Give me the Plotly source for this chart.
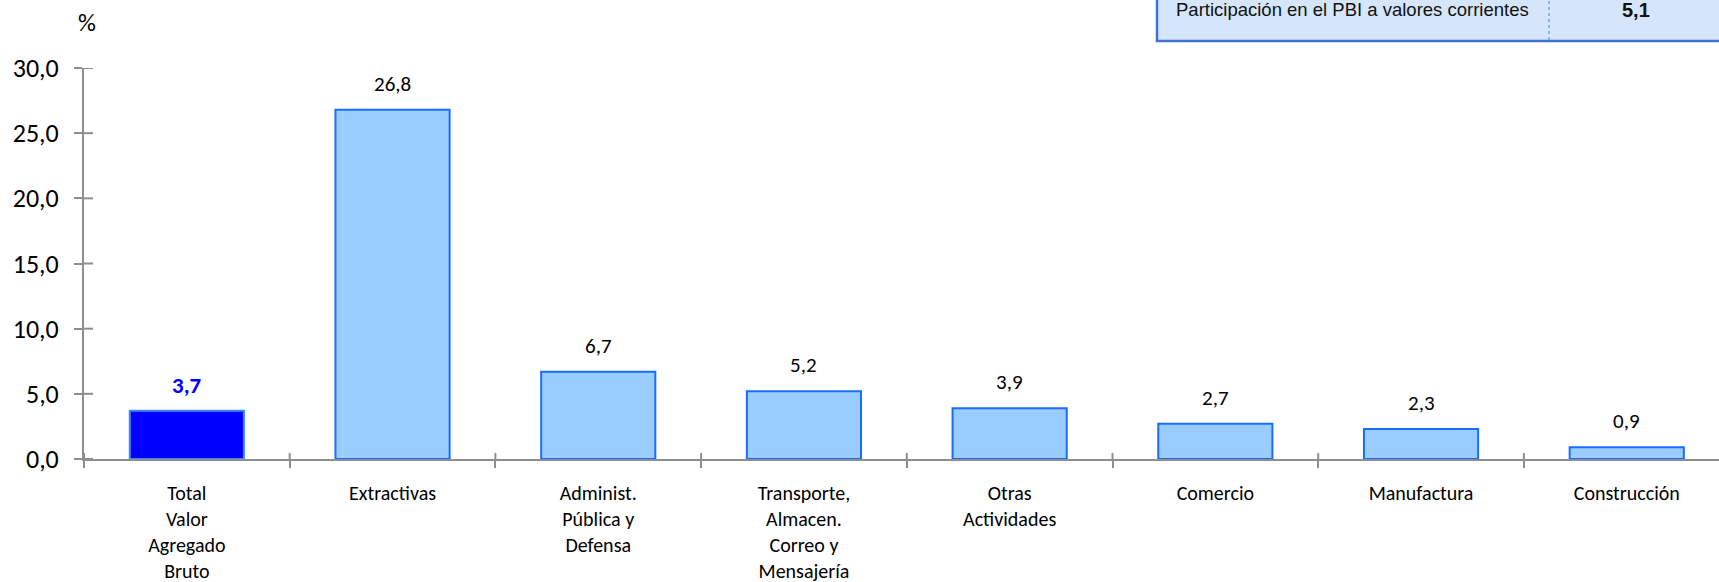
import plotly.graph_objects as go

# ---- data ----
categories = ["Total Valor Agregado Bruto", "Extractivas", "Administ. Pública y Defensa",
              "Transporte, Almacen. Correo y Mensajería", "Otras Actividades",
              "Comercio", "Manufactura", "Construcción"]
tick_labels = ["Total<br>Valor<br>Agregado<br>Bruto", "Extractivas", "Administ.<br>Pública y<br>Defensa",
               "Transporte,<br>Almacen.<br>Correo y<br>Mensajería", "Otras<br>Actividades",
               "Comercio", "Manufactura", "Construcción"]
values = [3.7, 26.8, 6.7, 5.2, 3.9, 2.7, 2.3, 0.9]
y_ticks = [0, 5, 10, 15, 20, 25, 30]
y_tick_text = ["0,0", "5,0", "10,0", "15,0", "20,0", "25,0", "30,0"]
box_label = "Participación en el PBI a valores corrientes"
box_value = "5,1"
unit_label = "%"

# ---- layout geometry ----
W, H = 1719, 582
ML, MR, MT, MB = 84, 0, 68, 123
PW, PH = W - ML - MR, H - MT - MB
cat_px = 205.7
x_range = [-0.5, -0.5 + PW / cat_px]

def px_x(p):
    return (p - ML) / PW

def px_y(p):
    return (H - MB - p) / PH

FONT = "Carlito, Lato, sans-serif"
GRAY = "#8e8e8e"

fill = ["#0000ff"] + ["#99ccff"] * (len(values) - 1)
edge = ["#3d8bff"] + ["#1a6cff"] * (len(values) - 1)

fig = go.Figure()
fig.add_trace(go.Bar(
    x=categories, y=values, width=0.555,
    marker=dict(color=fill, line=dict(color=edge, width=2)),
    hoverinfo="skip",
))

# value labels
for i, (c, v) in enumerate(zip(categories, values)):
    txt = f"{v:.1f}".replace(".", ",")
    if i == 0:
        f = dict(family=FONT, size=23, color="#0000ff")
        txt = f"<b>{txt}</b>"
    else:
        f = dict(family=FONT, size=21, color="#000000")
    fig.add_annotation(x=c, y=v, text=txt, showarrow=False, xref="x", yref="y",
                       yanchor="middle", yshift=26, font=f)

shapes = []
# inside halves of crossing ticks on x axis (category boundaries)
for i in range(len(categories) + 1):
    shapes.append(dict(type="line", xref="x", yref="y", x0=i - 0.5, x1=i - 0.5,
                       ysizemode="pixel", yanchor=0, y0=0, y1=6,
                       line=dict(color=GRAY, width=2)))
# inside halves of crossing ticks on y axis
for v in y_ticks:
    shapes.append(dict(type="line", xref="x", yref="y", y0=v, y1=v,
                       xsizemode="pixel", xanchor=-0.5, x0=0, x1=9,
                       line=dict(color=GRAY, width=2)))

# top-right box
box_bottom = 41
shapes.append(dict(type="rect", xref="paper", yref="paper",
                   x0=px_x(1157), x1=px_x(1760), y0=px_y(box_bottom), y1=px_y(-20),
                   fillcolor="#d5e6fb", line=dict(color="#3e72d6", width=2.5), layer="above"))
shapes.append(dict(type="line", xref="paper", yref="paper",
                   x0=px_x(1549), x1=px_x(1549), y0=px_y(box_bottom - 1), y1=px_y(0),
                   line=dict(color="#4a7fd8", width=1, dash="dot"), layer="above"))

fig.add_annotation(xref="paper", yref="paper", x=px_x(1352), y=px_y(10),
                   text=box_label, showarrow=False, xanchor="center", yanchor="middle",
                   font=dict(family="Liberation Sans, Arial", size=18.5, color="#111111"))
fig.add_annotation(xref="paper", yref="paper", x=px_x(1636), y=px_y(10),
                   text=f"<b>{box_value}</b>", showarrow=False, xanchor="center", yanchor="middle",
                   font=dict(family="Liberation Sans, Arial", size=20, color="#111111"))
fig.add_annotation(xref="paper", yref="paper", x=px_x(87), y=px_y(23),
                   text=unit_label, showarrow=False, xanchor="center", yanchor="middle",
                   font=dict(family=FONT, size=25, color="#000000"))

fig.update_layout(
    width=W, height=H,
    margin=dict(l=ML, r=MR, t=MT, b=MB, pad=0, autoexpand=False),
    paper_bgcolor="white", plot_bgcolor="white",
    showlegend=False,
    shapes=shapes,
    xaxis=dict(type="category", range=x_range, tickmode="array",
               tickvals=categories, ticktext=tick_labels, automargin=False,
               tickson="boundaries", ticks="outside", ticklen=7, tickwidth=2, tickcolor=GRAY,
               ticklabelstandoff=15,
               showline=True, linecolor=GRAY, linewidth=2, showgrid=False, zeroline=False,
               tickfont=dict(family=FONT, size=20, color="#000000")),
    yaxis=dict(range=[0, 30], tickmode="array", tickvals=y_ticks, ticktext=y_tick_text,
               ticks="outside", ticklen=8, tickwidth=2, tickcolor=GRAY, automargin=False,
               ticklabelstandoff=10,
               showline=True, linecolor=GRAY, linewidth=2, showgrid=False, zeroline=False,
               tickfont=dict(family=FONT, size=26, color="#000000")),
)

fig.write_html("out.html", config={"displayModeBar": False},
               post_script="document.body.style.margin='0';document.body.style.overflow='hidden';")
